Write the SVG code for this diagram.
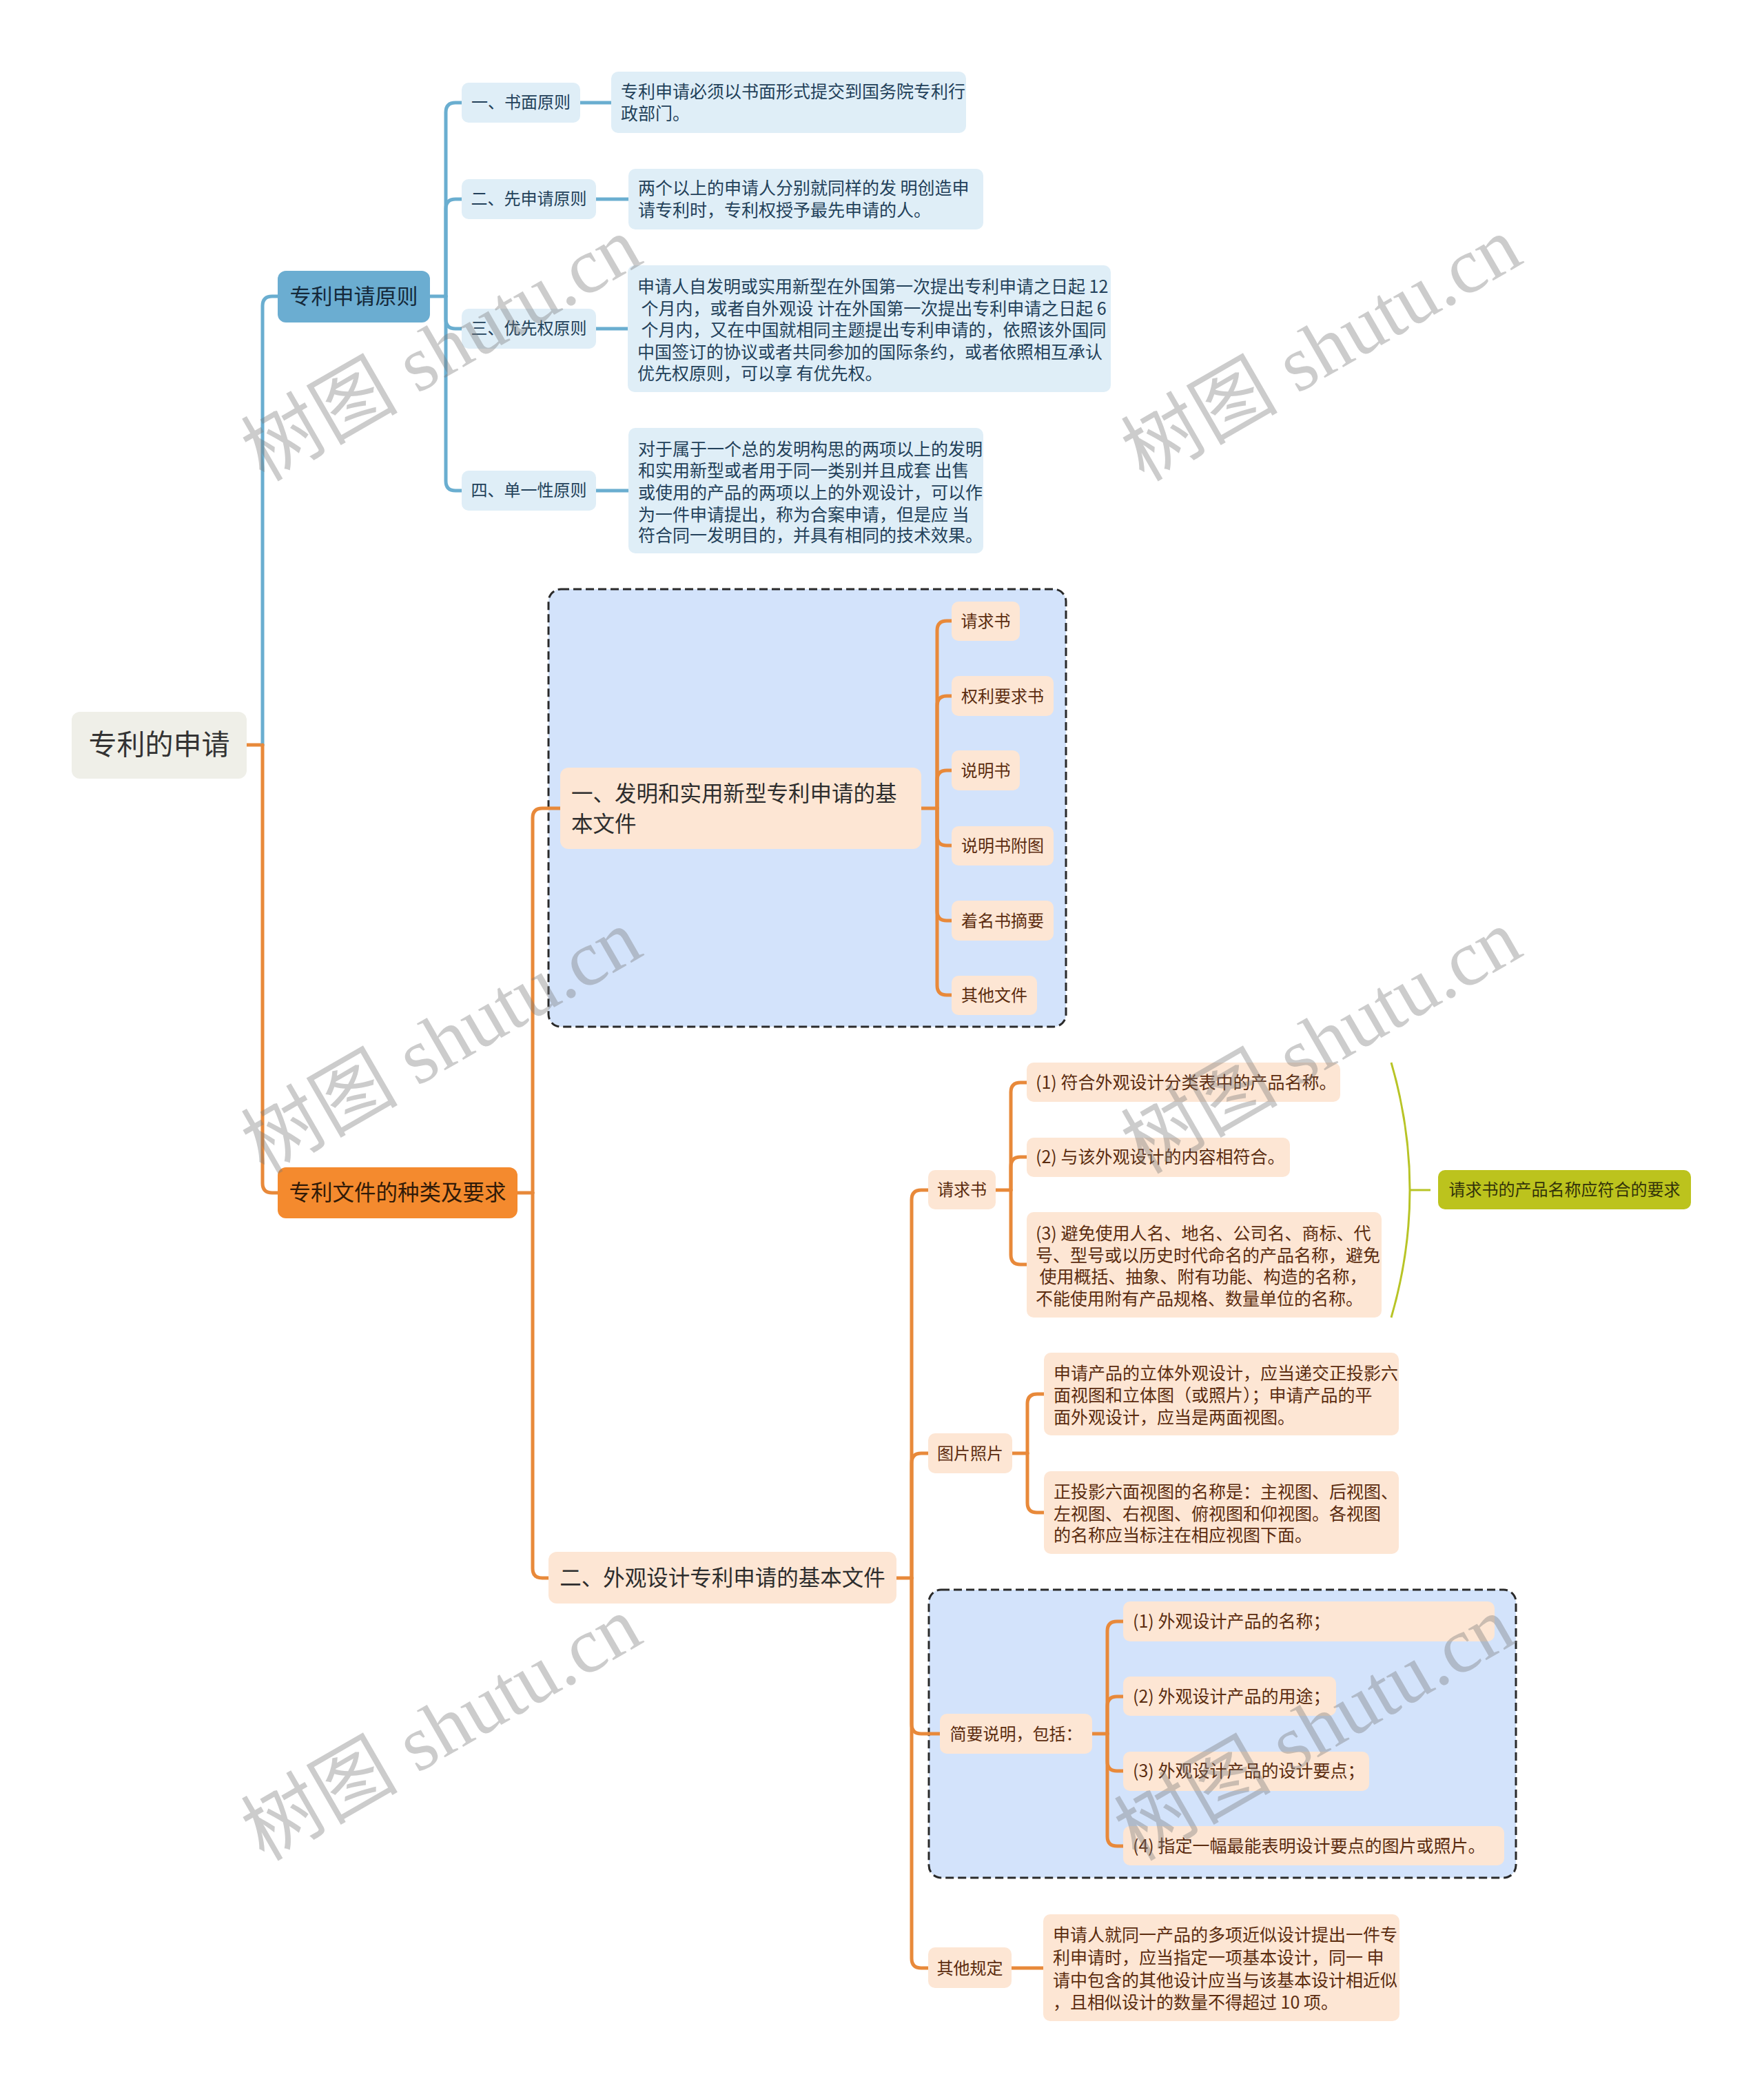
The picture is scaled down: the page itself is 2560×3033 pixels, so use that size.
<svg xmlns="http://www.w3.org/2000/svg" width="2560" height="3033" viewBox="0 0 2560 3033">
<style>
text{font-family:"Noto Sans CJK SC","Noto Sans",sans-serif}
.wm{font-family:"Liberation Serif","Noto Sans CJK SC",serif;font-size:114px;fill:#7a7a7a;opacity:.38}
.cb{fill:none;stroke:#6aaed0;stroke-width:5;stroke-linecap:round}
.co{fill:none;stroke:#e8893a;stroke-width:5;stroke-linecap:round}
.cg{fill:none;stroke:#b8c426;stroke-width:3}
.dash{fill:#d3e3fb;stroke:#2a2a2a;stroke-width:3;stroke-dasharray:12 6}
.root{fill:#efefe8}
.l1b{fill:#6badd1}
.l1o{fill:#f48a2e}
.lb{fill:#dfeef7}
.pe{fill:#fde6d4}
.ol{fill:#bcc31d}
.t-root{font-size:41px;fill:#333}
.t-l1b{font-size:31px;fill:#15293a}
.t-l1o{font-size:31.5px;fill:#301a08}
.t-l2b{font-size:24px;fill:#23415a}
.t-db{font-size:25px;fill:#23415a}
.t-l2o{font-size:31.5px;fill:#2d2d2d}
.t-s{font-size:24px;fill:#5b2c0f}
.t-d{font-size:25px;fill:#5b2c0f}
.t-ol{font-size:24px;fill:#33330a}
.m{text-anchor:middle}
</style>

<g id="frames">
<rect class="dash" x="796" y="855" width="751" height="635" rx="18"/>
<rect class="dash" x="1348" y="2307" width="852" height="418" rx="18"/>
</g>

<g id="connectors">
<path class="co" d="M358 1081 H381"/>
<path class="cb" d="M381 1081 V444 Q381 430 395 430 H403"/>
<path class="co" d="M381 1081 V1717 Q381 1731 395 1731 H403"/>
<path class="cb" d="M624 430 H647"/>
<path class="cb" d="M647 430 V163 Q647 149 661 149 H670"/>
<path class="cb" d="M647 430 V303 Q647 289 661 289 H670"/>
<path class="cb" d="M647 430 V463 Q647 477 661 477 H670"/>
<path class="cb" d="M647 430 V698 Q647 712 661 712 H670"/>
<path class="cb" d="M842 149 H887"/>
<path class="cb" d="M865 289 H912"/>
<path class="cb" d="M865 477 H911"/>
<path class="cb" d="M865 712 H912"/>
<path class="co" d="M751 1731 H773"/>
<path class="co" d="M773 1731 V1187 Q773 1173 787 1173 H813"/>
<path class="co" d="M773 1731 V2276 Q773 2290 787 2290 H796"/>
<path class="co" d="M1337 1173 H1360"/>
<path class="co" d="M1360 1173 V915 Q1360 901 1374 901 H1381"/>
<path class="co" d="M1360 1173 V1024 Q1360 1010 1374 1010 H1381"/>
<path class="co" d="M1360 1173 V1132 Q1360 1118 1374 1118 H1381"/>
<path class="co" d="M1360 1173 V1213 Q1360 1227 1374 1227 H1381"/>
<path class="co" d="M1360 1173 V1322 Q1360 1336 1374 1336 H1381"/>
<path class="co" d="M1360 1173 V1430 Q1360 1444 1374 1444 H1381"/>
<path class="co" d="M1301 2290 H1323"/>
<path class="co" d="M1323 2290 V1741 Q1323 1727 1337 1727 H1347"/>
<path class="co" d="M1323 2290 V2123 Q1323 2109 1337 2109 H1347"/>
<path class="co" d="M1323 2290 V2502 Q1323 2516 1337 2516 H1364"/>
<path class="co" d="M1323 2290 V2842 Q1323 2856 1337 2856 H1347"/>
<path class="co" d="M1445 1727 H1467"/>
<path class="co" d="M1467 1727 V1585 Q1467 1571 1481 1571 H1490"/>
<path class="co" d="M1467 1727 V1693 Q1467 1679 1481 1679 H1490"/>
<path class="co" d="M1467 1727 V1821 Q1467 1835 1481 1835 H1490"/>
<path class="co" d="M1469 2109 H1491"/>
<path class="co" d="M1491 2109 V2037 Q1491 2023 1505 2023 H1515"/>
<path class="co" d="M1491 2109 V2181 Q1491 2195 1505 2195 H1515"/>
<path class="co" d="M1585 2516 H1607"/>
<path class="co" d="M1607 2516 V2367 Q1607 2353 1621 2353 H1630"/>
<path class="co" d="M1607 2516 V2476 Q1607 2462 1621 2462 H1630"/>
<path class="co" d="M1607 2516 V2556 Q1607 2570 1621 2570 H1630"/>
<path class="co" d="M1607 2516 V2665 Q1607 2679 1621 2679 H1630"/>
<path class="co" d="M1468 2856 H1514"/>
<path class="cg" d="M2019 1542 Q2073 1727 2019 1912"/>
<path class="cg" d="M2046 1727 H2076"/>
</g>

<g id="root"><rect class="root" x="104" y="1033" width="254" height="97" rx="12"/><text class="t-root m" x="231" y="1095">专利的申请</text></g>

<g id="n-principles"><rect class="l1b" x="403" y="393" width="221" height="75" rx="12"/><text class="t-l1b m" x="513.5" y="441">专利申请原则</text></g>
<g id="n-p1"><rect class="lb" x="670" y="120" width="172" height="58" rx="10"/><text class="t-l2b m" x="756" y="157">一、书面原则</text></g>
<g id="n-p1d"><rect class="lb" x="887" y="104" width="515" height="89" rx="10"/><text class="t-db" x="901"><tspan x="901" y="142">专利申请必须以书面形式提交到国务院专利行</tspan><tspan x="901" y="174">政部门。</tspan></text></g>
<g id="n-p2"><rect class="lb" x="670" y="260" width="195" height="58" rx="10"/><text class="t-l2b m" x="767.5" y="297">二、先申请原则</text></g>
<g id="n-p2d"><rect class="lb" x="912" y="245" width="515" height="88" rx="10"/><text class="t-db"><tspan x="926" y="282">两个以上的申请人分别就同样的发 明创造申</tspan><tspan x="926" y="314">请专利时，专利权授予最先申请的人。</tspan></text></g>
<g id="n-p3"><rect class="lb" x="670" y="448" width="195" height="58" rx="10"/><text class="t-l2b m" x="767.5" y="485">三、优先权原则</text></g>
<g id="n-p3d"><rect class="lb" x="911" y="385" width="701" height="184" rx="10"/><text class="t-db" xml:space="preserve"><tspan x="925" y="425">申请人自发明或实用新型在外国第一次提出专利申请之日起 12</tspan><tspan x="925" y="456.5"> 个月内，或者自外观设 计在外国第一次提出专利申请之日起 6</tspan><tspan x="925" y="488"> 个月内，又在中国就相同主题提出专利申请的，依照该外国同</tspan><tspan x="925" y="519.5">中国签订的协议或者共同参加的国际条约，或者依照相互承认</tspan><tspan x="925" y="551">优先权原则，可以享 有优先权。</tspan></text></g>
<g id="n-p4"><rect class="lb" x="670" y="683" width="195" height="58" rx="10"/><text class="t-l2b m" x="767.5" y="720">四、单一性原则</text></g>
<g id="n-p4d"><rect class="lb" x="912" y="621" width="515" height="182" rx="10"/><text class="t-db" xml:space="preserve"><tspan x="926" y="661">对于属于一个总的发明构思的两项以上的发明</tspan><tspan x="926" y="692">和实用新型或者用于同一类别并且成套 出售</tspan><tspan x="926" y="724">或使用的产品的两项以上的外观设计，可以作</tspan><tspan x="926" y="756">为一件申请提出，称为合案申请，但是应 当</tspan><tspan x="926" y="786">符合同一发明目的，并具有相同的技术效果。</tspan></text></g>

<g id="n-docs"><rect class="l1o" x="403" y="1694" width="348" height="74" rx="12"/><text class="t-l1o m" x="577" y="1742">专利文件的种类及要求</text></g>
<g id="n-inv"><rect class="pe" x="813" y="1114" width="524" height="118" rx="12"/><text class="t-l2o"><tspan x="829" y="1163">一、发明和实用新型专利申请的基</tspan><tspan x="829" y="1207">本文件</tspan></text></g>
<g id="n-inv1"><rect class="pe" x="1381" y="873" width="99" height="57" rx="10"/><text class="t-s m" x="1430.5" y="910">请求书</text></g>
<g id="n-inv2"><rect class="pe" x="1381" y="981" width="148" height="58" rx="10"/><text class="t-s m" x="1455" y="1019">权利要求书</text></g>
<g id="n-inv3"><rect class="pe" x="1381" y="1089" width="99" height="58" rx="10"/><text class="t-s m" x="1430.5" y="1127">说明书</text></g>
<g id="n-inv4"><rect class="pe" x="1381" y="1199" width="148" height="57" rx="10"/><text class="t-s m" x="1455" y="1236">说明书附图</text></g>
<g id="n-inv5"><rect class="pe" x="1381" y="1307" width="148" height="58" rx="10"/><text class="t-s m" x="1455" y="1345">着名书摘要</text></g>
<g id="n-inv6"><rect class="pe" x="1381" y="1416" width="124" height="57" rx="10"/><text class="t-s m" x="1443" y="1453">其他文件</text></g>

<g id="n-des"><rect class="pe" x="796" y="2252" width="505" height="75" rx="12"/><text class="t-l2o m" x="1048.5" y="2301">二、外观设计专利申请的基本文件</text></g>
<g id="n-req"><rect class="pe" x="1347" y="1698" width="98" height="57" rx="10"/><text class="t-s m" x="1396" y="1735">请求书</text></g>
<g id="n-req1"><rect class="pe" x="1490" y="1542" width="455" height="57" rx="10"/><text class="t-d" x="1503" y="1580">(1) 符合外观设计分类表中的产品名称。</text></g>
<g id="n-req2"><rect class="pe" x="1490" y="1651" width="382" height="57" rx="10"/><text class="t-d" x="1503" y="1688">(2) 与该外观设计的内容相符合。</text></g>
<g id="n-req3"><rect class="pe" x="1490" y="1759" width="515" height="153" rx="10"/><text class="t-d" xml:space="preserve"><tspan x="1503" y="1799">(3) 避免使用人名、地名、公司名、商标、代</tspan><tspan x="1503" y="1831">号、型号或以历史时代命名的产品名称，避免</tspan><tspan x="1503" y="1862"> 使用概括、抽象、附有功能、构造的名称，</tspan><tspan x="1503" y="1894">不能使用附有产品规格、数量单位的名称。</tspan></text></g>
<g id="n-reqsum"><rect class="ol" x="2087" y="1698" width="367" height="57" rx="10"/><text class="t-ol m" x="2270.5" y="1735">请求书的产品名称应符合的要求</text></g>
<g id="n-pic"><rect class="pe" x="1347" y="2080" width="122" height="58" rx="10"/><text class="t-s m" x="1408" y="2118">图片照片</text></g>
<g id="n-pic1"><rect class="pe" x="1515" y="1963" width="515" height="120" rx="10"/><text class="t-d"><tspan x="1529" y="2002">申请产品的立体外观设计，应当递交正投影六</tspan><tspan x="1529" y="2034">面视图和立体图（或照片）；申请产品的平</tspan><tspan x="1529" y="2066">面外观设计，应当是两面视图。</tspan></text></g>
<g id="n-pic2"><rect class="pe" x="1515" y="2135" width="515" height="120" rx="10"/><text class="t-d"><tspan x="1529" y="2174">正投影六面视图的名称是：主视图、后视图、</tspan><tspan x="1529" y="2206">左视图、右视图、俯视图和仰视图。各视图</tspan><tspan x="1529" y="2237">的名称应当标注在相应视图下面。</tspan></text></g>
<g id="n-brief"><rect class="pe" x="1364" y="2487" width="221" height="58" rx="10"/><text class="t-s m" x="1474.5" y="2525">简要说明，包括：</text></g>
<g id="n-brief1"><rect class="pe" x="1630" y="2324" width="539" height="58" rx="10"/><text class="t-d" x="1644" y="2362">(1) 外观设计产品的名称；</text></g>
<g id="n-brief2"><rect class="pe" x="1630" y="2433" width="309" height="57" rx="10"/><text class="t-d" x="1644" y="2471">(2) 外观设计产品的用途；</text></g>
<g id="n-brief3"><rect class="pe" x="1630" y="2542" width="357" height="57" rx="10"/><text class="t-d" x="1644" y="2579">(3) 外观设计产品的设计要点；</text></g>
<g id="n-brief4"><rect class="pe" x="1630" y="2650" width="553" height="57" rx="10"/><text class="t-d" x="1644" y="2688">(4) 指定一幅最能表明设计要点的图片或照片。</text></g>
<g id="n-other"><rect class="pe" x="1347" y="2826" width="121" height="59" rx="10"/><text class="t-s m" x="1407.5" y="2865">其他规定</text></g>
<g id="n-other1"><rect class="pe" x="1514" y="2778" width="517" height="155" rx="10"/><text class="t-d"><tspan x="1528" y="2817">申请人就同一产品的多项近似设计提出一件专</tspan><tspan x="1528" y="2850">利申请时，应当指定一项基本设计，同一 申</tspan><tspan x="1528" y="2883">请中包含的其他设计应当与该基本设计相近似</tspan><tspan x="1528" y="2915">，且相似设计的数量不得超过 10 项。</tspan></text></g>

<g id="watermarks">
<text class="wm m" transform="translate(660 540) rotate(-30)">树图 shutu.cn</text>
<text class="wm m" transform="translate(1937 540) rotate(-30)">树图 shutu.cn</text>
<text class="wm m" transform="translate(660 1545) rotate(-30)">树图 shutu.cn</text>
<text class="wm m" transform="translate(1937 1545) rotate(-30)">树图 shutu.cn</text>
<text class="wm m" transform="translate(660 2542) rotate(-30)">树图 shutu.cn</text>
<text class="wm m" transform="translate(1927 2542) rotate(-30)">树图 shutu.cn</text>
</g>
</svg>
